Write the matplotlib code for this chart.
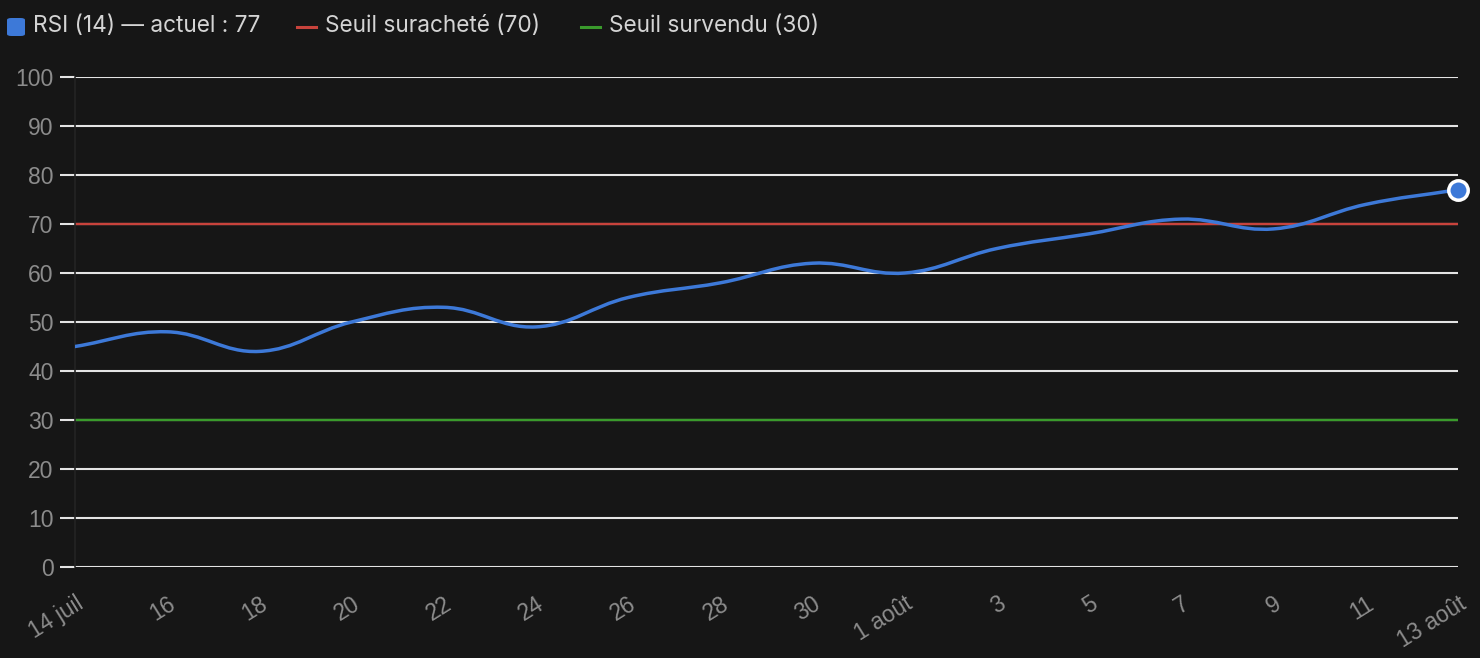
import matplotlib.pyplot as plt
import numpy as np
from matplotlib.path import Path
from matplotlib.patches import PathPatch, FancyBboxPatch
from matplotlib.lines import Line2D

days = [0, 2, 4, 6, 8, 10, 12, 14, 16, 18, 20, 22, 24, 26, 28, 30]
dayLabels = ['14 juil', '16', '18', '20', '22', '24', '26', '28', '30',
             '1 août', '3', '5', '7', '9', '11', '13 août']
rsi = [45, 48, 44, 50, 53, 49, 55, 58, 62, 60, 65, 68, 71, 69, 74, 77]
overbought = 70
oversold = 30

bg = '#161616'
blue = '#3d79d8'
red = '#c8433c'
green = '#3a9a2c'
gridColor = '#e4e4e4'
tickColor = '#8c8c8c'

fig = plt.figure(figsize=(14.8, 6.58), dpi=100, facecolor=bg)
ax = fig.add_axes([75 / 1480, 91 / 658, 1383 / 1480, 490 / 658])
ax.set_facecolor(bg)
ax.set_xlim(days[0], days[-1])
ax.set_ylim(0, 100)


# smooth curve like chart.js (tension 0.4), computed in pixel scale
def splinePath(xs, ys, sx, sy, tension=0.4):
    px = np.array(xs, float) * sx
    py = np.array(ys, float) * sy
    n = len(px)
    cpPrev = [None] * n
    cpNext = [None] * n
    for i in range(n):
        p0 = i - 1 if i > 0 else i
        p2 = i + 1 if i < n - 1 else i
        d01 = np.hypot(px[i] - px[p0], py[i] - py[p0])
        d12 = np.hypot(px[p2] - px[i], py[p2] - py[i])
        tot = d01 + d12
        s01 = d01 / tot if tot else 0
        s12 = d12 / tot if tot else 0
        fa = tension * s01
        fb = tension * s12
        dx = px[p2] - px[p0]
        dy = py[p2] - py[p0]
        cpPrev[i] = (px[i] - fa * dx, py[i] - fa * dy)
        cpNext[i] = (px[i] + fb * dx, py[i] + fb * dy)
    verts = [(px[0], py[0])]
    codes = [Path.MOVETO]
    for i in range(n - 1):
        verts += [cpNext[i], cpPrev[i + 1], (px[i + 1], py[i + 1])]
        codes += [Path.CURVE4] * 3
    verts = [(vx / sx, vy / sy) for vx, vy in verts]
    return Path(verts, codes)


pxPerDay = 1383 / 30
pxPerUnit = 490 / 100

ax.set_yticks(range(0, 101, 10))
ax.grid(axis='y', color=gridColor, linewidth=1.5, zorder=1)
ax.set_xticks(days)
ax.set_xticklabels(dayLabels, rotation=32, ha='right', rotation_mode='anchor')

ax.axhline(overbought, color=red, linewidth=1.7, zorder=2)
ax.axhline(oversold, color=green, linewidth=1.7, zorder=2)

curve = splinePath(days, rsi, pxPerDay, pxPerUnit)
ax.add_patch(PathPatch(curve, facecolor='none', edgecolor=blue,
                       linewidth=2.5, zorder=3, capstyle='round'))
ax.plot(days[-1:], rsi[-1:], 'o', markersize=14, markerfacecolor=blue,
        markeredgecolor='white', markeredgewidth=2.5, clip_on=False, zorder=4)

for s in ['top', 'right', 'bottom']:
    ax.spines[s].set_visible(False)
ax.spines['left'].set_color('#242424')
ax.spines['left'].set_linewidth(1.2)

ax.tick_params(axis='y', colors=gridColor, labelcolor=tickColor, length=11,
               width=1.5, pad=4.5, labelsize=16.5)
ax.tick_params(axis='x', length=0, pad=18, labelcolor=tickColor, labelsize=16.5)
for lab in ax.get_xticklabels() + ax.get_yticklabels():
    lab.set_fontfamily('Liberation Sans')

# legend at top
def fx(p):
    return p / 1480


def fy(p):
    return 1 - p / 658


legFont = dict(fontsize=16.3, color='#d4d4d4', family='Inter', va='center')
fig.add_artist(FancyBboxPatch((fx(7), fy(36)), fx(18), 18 / 658,
                              boxstyle='round,pad=0,rounding_size=0.003',
                              transform=fig.transFigure, facecolor=blue,
                              edgecolor='none'))
fig.text(fx(33), fy(26), 'RSI (14) — actuel : 77', **legFont)
fig.add_artist(Line2D([fx(297), fx(316)], [fy(27), fy(27)], color=red,
                      linewidth=2.2, transform=fig.transFigure))
fig.text(fx(325), fy(26), 'Seuil suracheté (70)', **legFont)
fig.add_artist(Line2D([fx(581), fx(600)], [fy(27), fy(27)], color=green,
                      linewidth=2.2, transform=fig.transFigure))
fig.text(fx(609), fy(26), 'Seuil survendu (30)', **legFont)

fig.savefig('out.png', dpi=100, facecolor=bg)
